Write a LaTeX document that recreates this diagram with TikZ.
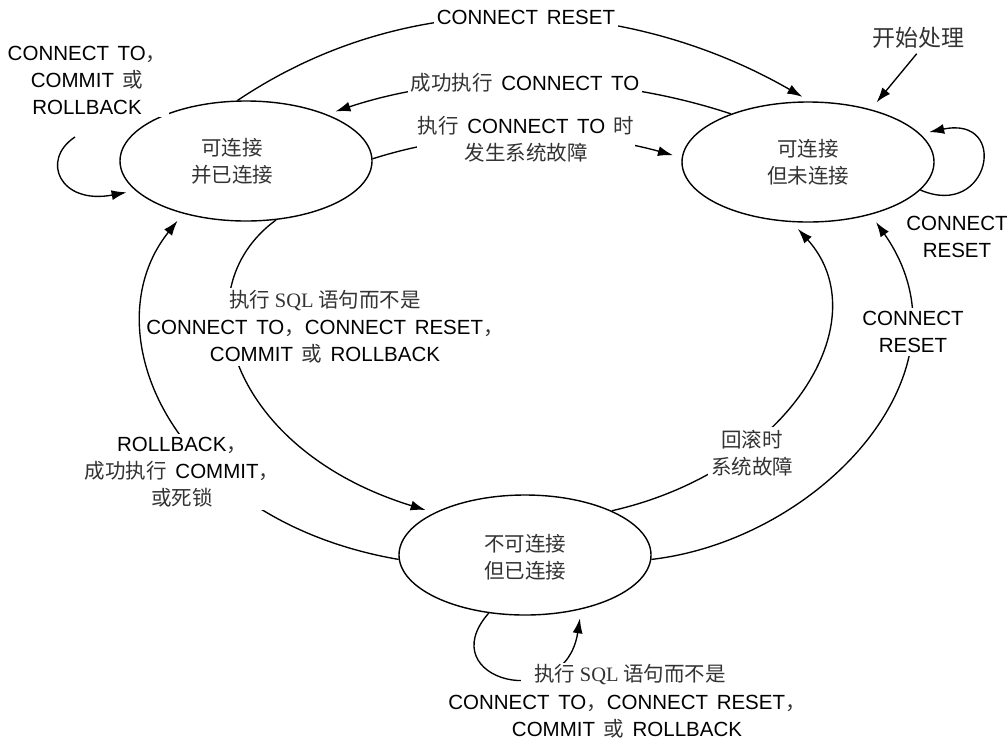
\documentclass[tikz,border=0pt]{standalone}
\usepackage{fontspec}
\setmainfont{Liberation Sans}[WordSpace=1.5]
\newfontfamily\zhfont{Noto Sans CJK SC}
\newfontfamily\sqlfont{Liberation Serif}
\usetikzlibrary{shapes.geometric,arrows.meta}
% Chinese text in a lighter tone
\newcommand\zh[1]{{\zhfont\color{black!80}#1}}

\begin{document}
\begin{tikzpicture}[x=1pt,y=-1pt,
  every node/.style={font=\fontsize{20.5}{27}\selectfont},
  state/.style={draw, ellipse, line width=1.4pt, minimum width=252pt,
                minimum height=120pt, inner sep=0pt},
  stlabel/.style={align=center},
  conn/.style={line width=1.35pt, -{Latex[length=15pt,width=10pt]}, shorten >=9pt},
  lab/.style={fill=white, align=center, inner sep=3pt},
]
\useasboundingbox (0,0) rectangle (1008,740);

% states
\node[state, label={[stlabel, xshift=-14pt]center:{\zh{可连接}\\\zh{并已连接}}}] (E1) at (246,161) {};
\node[state, label={[stlabel]center:{\zh{可连接}\\\zh{但未连接}}}] (E2) at (808,162) {};
\node[state, label={[stlabel, yshift=-2pt]center:{\zh{不可连接}\\\zh{但已连接}}}] (E3) at (525,555) {};

% entry point
\node (start) at (918,38) {\fontsize{23}{27}\selectfont\zh{开始处理}};
\draw[conn, shorten <=2pt] (start.south) -- (E2.40);

% CONNECT RESET over the top
\draw[conn] (E1.98) .. controls (420,-22) and (638,2) .. (E2.88);
\node[lab] (l1) at (526,17) {CONNECT RESET};

% successful CONNECT TO
\draw[conn] (E2.148) .. controls (601,71) and (454,72) .. (E1.30);
\node[lab] (l2) at (525,83) {\zh{成功执行} CONNECT TO};

% system failure during CONNECT TO
\draw[conn] (E1.1) .. controls (472,127) and (582,130) .. (E2.178);
\node[lab, inner xsep=1pt] (l3) at (526,139) {\zh{执行} CONNECT TO \zh{时}\\\zh{发生系统故障}};

% self loop on the connected state
\coordinate (r1) at (75,137);
\draw[conn] (r1) .. controls (40,160) and (60,205) .. (E1.195);
\node[lab] (l4) at (87,80) {CONNECT TO\zh{，}\\COMMIT \zh{或}\\ROLLBACK};

% SQL statement moves to the unconnectable state
\draw[conn] (E1.-63) .. controls (180,290) and (230,450) .. (E3.155);
\node[lab, inner xsep=1pt] (l6) at (325,327)
  {\zh{执行 {\sqlfont SQL} 语句而不是}\\CONNECT TO\zh{，}CONNECT RESET\zh{，}\\COMMIT \zh{或} ROLLBACK};

% rollback / commit / deadlock back to connectable
\draw[conn] (E3.182) .. controls (170,520) and (90,330) .. (E1.220);
\node[lab] (l5) at (182,472) {ROLLBACK\zh{，}\\\zh{成功执行} COMMIT\zh{，}\\\zh{或死锁}};

% failure during rollback
\draw[conn] (E3.27) .. controls (790,470) and (880,320) .. (E2.-105);
\node[lab] (l7) at (752,453) {\zh{回滚时}\\\zh{系统故障}};

% CONNECT RESET from the unconnectable state
\draw[conn] (E3.-2) .. controls (820,540) and (980,370) .. (E2.-40);
\node[lab] (l8) at (913,332) {CONNECT\\RESET};

% self loop on the unconnected state
\draw[conn] (E2.-14) .. controls (990,220) and (1010,115) .. (E2.14);
\node[align=center] (l9) at (957,237) {CONNECT\\RESET};

% self loop on the unconnectable state
\draw[conn] (E3.-122) .. controls (430,680) and (565,715) .. (E3.-44);
\node[lab, inner ysep=2pt, inner xsep=13pt] (l10) at (630,675) {\zh{执行 {\sqlfont SQL} 语句而不是}};
\node[align=center] (l10b) at (627,717) {CONNECT TO\zh{，}CONNECT RESET\zh{，}\\COMMIT \zh{或} ROLLBACK};
\end{tikzpicture}
\end{document}
